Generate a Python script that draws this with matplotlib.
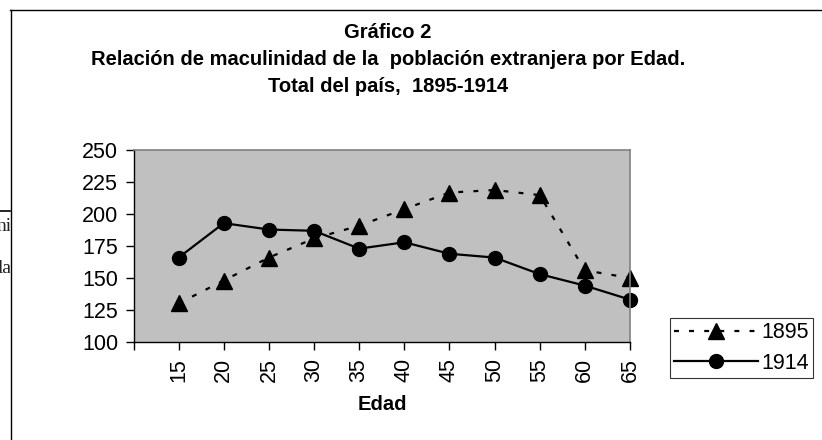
import matplotlib
matplotlib.use("Agg")
import matplotlib.pyplot as plt
from matplotlib.lines import Line2D
from matplotlib.transforms import Bbox

ages = ["15", "20", "25", "30", "35", "40", "45", "50", "55", "60", "65"]
v1895 = [130, 148, 166, 181, 191, 204, 217, 219, 215, 156, 150]
v1914 = [166, 193, 188, 187, 173, 178, 169, 166, 153, 144, 133]
yticks = [100, 125, 150, 175, 200, 225, 250]

W, H = 822, 440
fig = plt.figure(figsize=(W / 100, H / 100), dpi=100)
plt.rcParams['font.family'] = ['Liberation Sans', 'DejaVu Sans']

def fx(px):
    return px / W

def fy(py):
    return 1 - py / H

# outer frame (document chart border)
fig.add_artist(Line2D([fx(10), fx(822)], [fy(10.5), fy(10.5)], color='black', lw=1.0))
fig.add_artist(Line2D([fx(10.5), fx(10.5)], [fy(10), fy(440)], color='black', lw=1.0))
# fragments of the surrounding document at the left edge
fig.add_artist(Line2D([fx(0), fx(10)], [fy(211), fy(211)], color='black', lw=1.2))
clip = Bbox.from_extents(0, 0, 10, H)
for txt, py in [("ni", 226), ("la", 268)]:
    t = fig.text(fx(12), fy(py), txt, ha='right', va='center', fontsize=14,
                 family='Liberation Serif', color='#222222')
    t.set_clip_box(clip)
    t.set_clip_on(True)

# titles
tkw = dict(ha='center', va='baseline', fontsize=14.5, fontweight='bold')
fig.text(fx(388), fy(38), "Gráfico 2", **tkw)
fig.text(fx(388), fy(65), "Relación de maculinidad de la  población extranjera por Edad.", **tkw)
fig.text(fx(388), fy(92), "Total del país,  1895-1914", **tkw)

left, right, top, bottom = 133.5, 630, 150.5, 341.7
ax = fig.add_axes([fx(left), fy(bottom), fx(right - left), (bottom - top) / H])
ax.set_facecolor('#C0C0C0')
for s in ax.spines.values():
    s.set_color('#808080')
    s.set_linewidth(1.2)
ax.spines['left'].set_color('black')
ax.spines['bottom'].set_color('black')
ax.spines['left'].set_linewidth(1.0)
ax.spines['bottom'].set_linewidth(1.0)

x = list(range(len(ages)))
ax.plot(x, v1895, color='black', lw=1.6, linestyle=(0, (2.2, 4.6)), marker='^',
        markersize=11, label='1895', clip_on=False)
ax.plot(x, v1914, color='black', lw=1.6, linestyle='-', marker='o',
        markersize=10, label='1914', clip_on=False)

ax.set_xlim(-1, len(ages) - 1)
ax.set_ylim(100, 250)
ax.set_yticks(yticks)
ax.set_yticklabels([str(v) for v in yticks], fontsize=15.5)
ax.set_xticks([-1] + x)
ax.set_xticklabels([''] + ages, rotation=90, fontsize=15.5)
ax.tick_params(axis='both', direction='out', length=6, width=1, color='black')
ax.tick_params(axis='y', pad=5)
ax.tick_params(axis='x', pad=6)
fig.text(fx(382), fy(410), "Edad", ha='center', va='baseline', fontsize=14.5, fontweight='bold')

leg = fig.legend(loc='upper left', bbox_to_anchor=(fx(670), fy(318)), frameon=True,
                 fontsize=15.5, handlelength=3.9, handletextpad=0.15, borderpad=0.2,
                 labelspacing=0.45, borderaxespad=0, fancybox=False)
leg.get_frame().set_edgecolor('black')
leg.get_frame().set_linewidth(0.8)

fig.savefig("out.png", dpi=100)
